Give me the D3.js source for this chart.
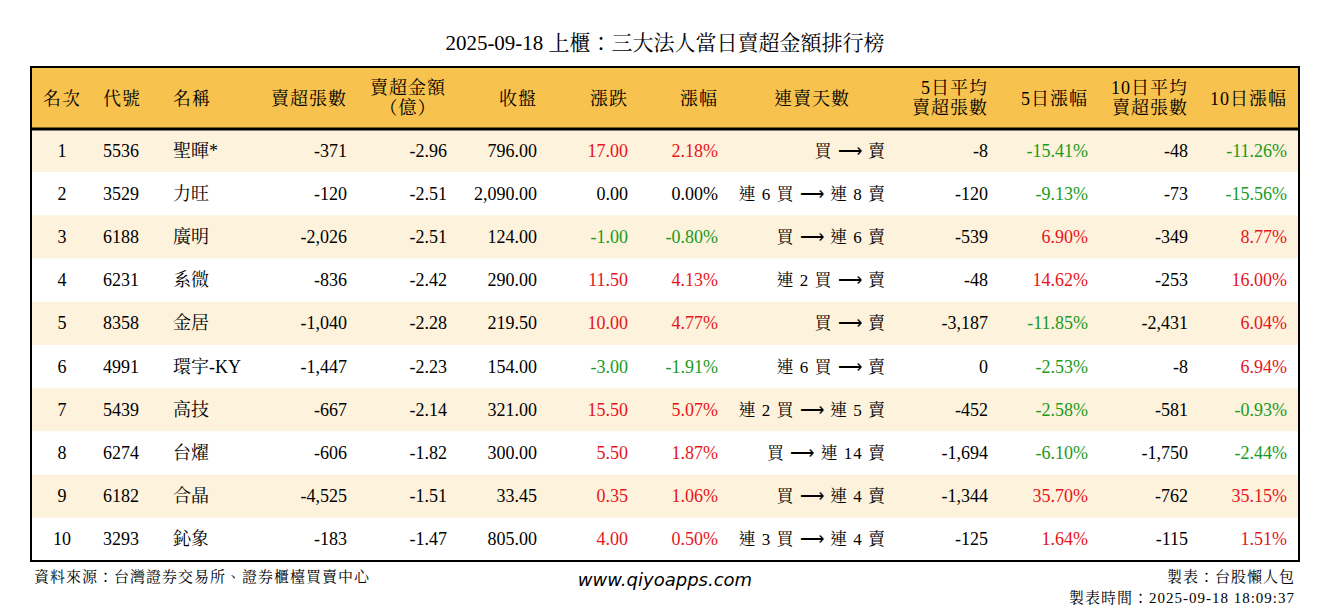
<!DOCTYPE html>
<html><head><meta charset="utf-8">
<script src="https://cdn.jsdelivr.net/npm/d3@7"></script>
<style>body{margin:0;background:#fff}svg text{font-family:"Liberation Serif","Noto Serif CJK TC","Noto Sans CJK TC",serif}</style>
</head><body><svg id="c" width="1330" height="612"></svg>
<script>
const ranks=[1,2,3,4,5,6,7,8,9,10];
const codes=["5536","3529","6188","6231","8358","4991","5439","6274","6182","3293"];
const names=["聖暉*","力旺","廣明","系微","金居","環宇-KY","高技","台燿","合晶","鈊象"];
const netShares=[-371,-120,-2026,-836,-1040,-1447,-667,-606,-4525,-183];
const netAmount=[-2.96,-2.51,-2.51,-2.42,-2.28,-2.23,-2.14,-1.82,-1.51,-1.47];
const closes=[796.00,2090.00,124.00,290.00,219.50,154.00,321.00,300.00,33.45,805.00];
const changes=[17.00,0.00,-1.00,11.50,10.00,-3.00,15.50,5.50,0.35,4.00];
const pcts=[2.18,0.00,-0.80,4.13,4.77,-1.91,5.07,1.87,1.06,0.50];
const streaks=["買 → 賣","連 6 買 → 連 8 賣","買 → 連 6 賣","連 2 買 → 賣","買 → 賣","連 6 買 → 賣","連 2 買 → 連 5 賣","買 → 連 14 賣","買 → 連 4 賣","連 3 買 → 連 4 賣"];
const avg5=[-8,-120,-539,-48,-3187,0,-452,-1694,-1344,-125];
const pct5=[-15.41,-9.13,6.90,14.62,-11.85,-2.53,-2.58,-6.10,35.70,1.64];
const avg10=[-48,-73,-349,-253,-2431,-8,-581,-1750,-762,-115];
const pct10=[-11.26,-15.56,8.77,16.00,6.04,6.94,-0.93,-2.44,35.15,1.51];

const svg=d3.select("#c");
const L=31,R=1299,T=67,H=129,B=561;
const y=d3.scaleBand().domain(ranks).range([H,B]);
const red="#e8141b",green="#1a9a22";
const fix=s=>s.replace(/\u2212/g,"-");
const fI=v=>fix(d3.format(",d")(v)),f2=v=>fix(d3.format(",.2f")(v));
const col=v=>v>0?red:v<0?green:"#000";

svg.append("text").attr("x",665).attr("y",50).attr("text-anchor","middle").attr("font-size",21).text("2025-09-18 上櫃：三大法人當日賣超金額排行榜");
svg.append("rect").attr("x",L).attr("y",T).attr("width",R-L).attr("height",H-T).attr("fill","#f8c24e");
svg.selectAll("rect.row").data(ranks).join("rect").attr("x",L).attr("y",d=>y(d)).attr("width",R-L).attr("height",y.bandwidth()).attr("fill",(d,i)=>i%2==0?"#fdf2dc":"#fff");

const cols=[
 {x:62,a:"middle",h:["名次"],v:i=>ranks[i]},
 {x:103,a:"start",h:["代號"],v:i=>codes[i]},
 {x:173,a:"start",h:["名稱"],v:i=>names[i]},
 {x:347,a:"end",h:["賣超張數"],v:i=>fI(netShares[i])},
 {x:408,a:"middle",h:["賣超金額","（億）"],vx:447,va:"end",v:i=>f2(netAmount[i])},
 {x:537,a:"end",h:["收盤"],v:i=>f2(closes[i])},
 {x:628,a:"end",h:["漲跌"],v:i=>f2(changes[i]),c:i=>col(changes[i])},
 {x:718,a:"end",h:["漲幅"],v:i=>f2(pcts[i])+"%",c:i=>col(pcts[i])},
 {x:812,a:"middle",h:["連賣天數"],vx:886,va:"end",v:i=>streaks[i],st:true},
 {x:988,a:"end",h:["5日平均","賣超張數"],v:i=>fI(avg5[i])},
 {x:1088,a:"end",h:["5日漲幅"],v:i=>f2(pct5[i])+"%",c:i=>col(pct5[i])},
 {x:1188,a:"end",h:["10日平均","賣超張數"],v:i=>fI(avg10[i])},
 {x:1287,a:"end",h:["10日漲幅"],v:i=>f2(pct10[i])+"%",c:i=>col(pct10[i])}
];
cols.forEach(c=>{
  const t=svg.append("text").attr("x",c.x).attr("text-anchor",c.a).attr("font-size",18).attr("letter-spacing",1);
  if(c.h.length==1) t.attr("y",105).text(c.h[0]);
  else c.h.forEach((s,k)=>t.append("tspan").attr("x",c.x).attr("y",94+k*20).text(s));
  const s=svg.selectAll(null).data(ranks).join("text").attr("x",c.vx||c.x).attr("text-anchor",c.va||c.a)
   .attr("y",d=>y(d)+y.bandwidth()/2+6).attr("font-size",18)
   .attr("fill",(d,i)=>c.c?c.c(i):"#000").text((d,i)=>c.v(i));
  if(c.st) s.attr("font-size",17).attr("letter-spacing",1).text((d,i)=>c.v(i).replace(/→/g,"⟶"));
});
svg.append("line").attr("x1",L).attr("x2",R).attr("y1",H).attr("y2",H).attr("stroke","#000").attr("stroke-width",3);
svg.append("rect").attr("x",L).attr("y",T).attr("width",R-L).attr("height",B-T).attr("fill","none").attr("stroke","#000").attr("stroke-width",2);
svg.append("text").attr("x",34).attr("y",582).attr("font-size",15).attr("letter-spacing",1).text("資料來源：台灣證券交易所、證券櫃檯買賣中心");
svg.append("text").attr("x",665).attr("y",586).attr("text-anchor","middle").attr("font-size",18).attr("font-style","italic").style("font-family","'DejaVu Sans',sans-serif").text("www.qiyoapps.com");
svg.append("text").attr("x",1295).attr("y",582).attr("text-anchor","end").attr("font-size",15).attr("letter-spacing",1).text("製表：台股懶人包");
svg.append("text").attr("x",1295).attr("y",603).attr("text-anchor","end").attr("font-size",15).attr("letter-spacing",1).text("製表時間：2025-09-18 18:09:37");
</script></body></html>
